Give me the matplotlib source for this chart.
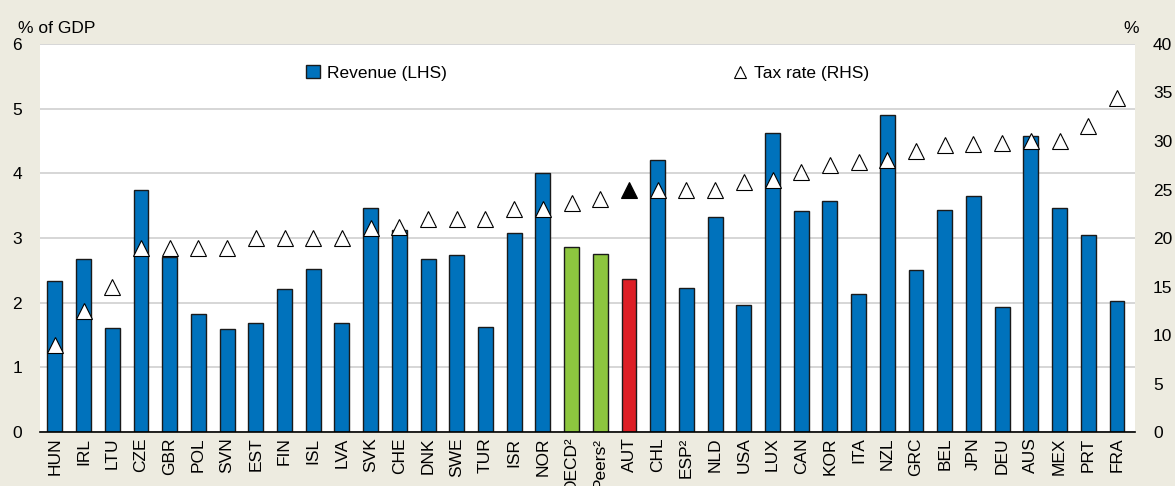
import matplotlib
matplotlib.use('Agg')
import matplotlib.pyplot as plt
from matplotlib.lines import Line2D
from matplotlib.patches import Patch

plt.rcParams['font.family'] = ['Liberation Sans', 'DejaVu Sans']

countries = ['HUN', 'IRL', 'LTU', 'CZE', 'GBR', 'POL', 'SVN', 'EST', 'FIN', 'ISL',
             'LVA', 'SVK', 'CHE', 'DNK', 'SWE', 'TUR', 'ISR', 'NOR', 'OECD²', 'Peers²',
             'AUT', 'CHL', 'ESP²', 'NLD', 'USA', 'LUX', 'CAN', 'KOR', 'ITA', 'NZL',
             'GRC', 'BEL', 'JPN', 'DEU', 'AUS', 'MEX', 'PRT', 'FRA']
revenue = [2.33, 2.67, 1.61, 3.74, 2.70, 1.82, 1.59, 1.69, 2.21, 2.52,
           1.69, 3.47, 3.12, 2.67, 2.73, 1.63, 3.08, 4.01, 2.86, 2.76,
           2.36, 4.21, 2.23, 3.33, 1.96, 4.63, 3.42, 3.57, 2.13, 4.90,
           2.50, 3.44, 3.65, 1.94, 4.57, 3.47, 3.05, 2.02]
tax_rate = [9.0, 12.5, 15.0, 19.0, 19.0, 19.0, 19.0, 20.0, 20.0, 20.0,
            20.0, 21.0, 21.1, 22.0, 22.0, 22.0, 23.0, 23.0, 23.6, 24.0,
            25.0, 25.0, 25.0, 25.0, 25.8, 26.0, 26.8, 27.5, 27.8, 28.0,
            29.0, 29.6, 29.7, 29.8, 30.0, 30.0, 31.5, 34.4]

blue = '#0072BC'
green = '#8DC63F'
red = '#DD1F26'
bg = '#EDEBE0'

colors = []
for c in countries:
    if c == 'AUT':
        colors.append(red)
    elif c in ('OECD²', 'Peers²'):
        colors.append(green)
    else:
        colors.append(blue)

fig = plt.figure(figsize=(11.75, 4.86), dpi=100, facecolor=bg)
ax = fig.add_axes([0.034, 0.111, 0.932, 0.7985])
x = list(range(len(countries)))

ax.bar(x, revenue, width=0.52, color=colors, edgecolor='#1a1a1a', linewidth=1.0, zorder=2)
ax.set_ylim(0, 6)
ax.set_yticks(range(0, 7))
ax.set_xlim(-0.52, len(countries) - 1 + 0.63)
ax.set_xticks(x)
ax.set_xticklabels(countries, rotation=90, fontsize=12.5)
ax.tick_params(axis='both', length=0, labelsize=12.5)
ax.tick_params(axis='y', pad=13)
ax.tick_params(axis='x', pad=4)
ax.grid(axis='y', color='#d0d0d0', linewidth=1.2, zorder=0)
ax.set_axisbelow(True)
for s in ['left', 'right', 'top']:
    ax.spines[s].set_visible(False)
ax.spines['bottom'].set_color('black')
ax.spines['bottom'].set_linewidth(1.2)
ax.spines['bottom'].set_zorder(5)

ax2 = ax.twinx()
for i, (xi, t) in enumerate(zip(x, tax_rate)):
    fc = 'black' if countries[i] == 'AUT' else 'white'
    ax2.plot(xi, t, marker='^', markersize=11, markerfacecolor=fc,
             markeredgecolor='black', markeredgewidth=0.8, linestyle='none', zorder=3)
ax2.set_ylim(0, 40)
ax2.set_yticks(range(0, 45, 5))
ax2.tick_params(axis='y', length=0, labelsize=12.5, pad=13)
for s in ['left', 'right', 'top', 'bottom']:
    ax2.spines[s].set_visible(False)

fig.text(0.015, 0.925, '% of GDP', fontsize=12.5, ha='left', va='bottom')
fig.text(0.9626, 0.925, '%', fontsize=12.5, ha='center', va='bottom')

handles = [Patch(facecolor=blue, edgecolor='#1a1a1a', linewidth=1.0),
           Line2D([], [], marker='^', markersize=9, markerfacecolor='white',
                  markeredgecolor='black', markeredgewidth=0.8, linestyle='none')]
ax2.legend(handles, ['Revenue (LHS)', 'Tax rate (RHS)'], loc='upper center',
           bbox_to_anchor=(0.5, 0.985), ncol=2, frameon=False, fontsize=12.5,
           columnspacing=16.5, handlelength=0.8, handletextpad=0.4)

plt.savefig('out.png', dpi=100, facecolor=bg)
